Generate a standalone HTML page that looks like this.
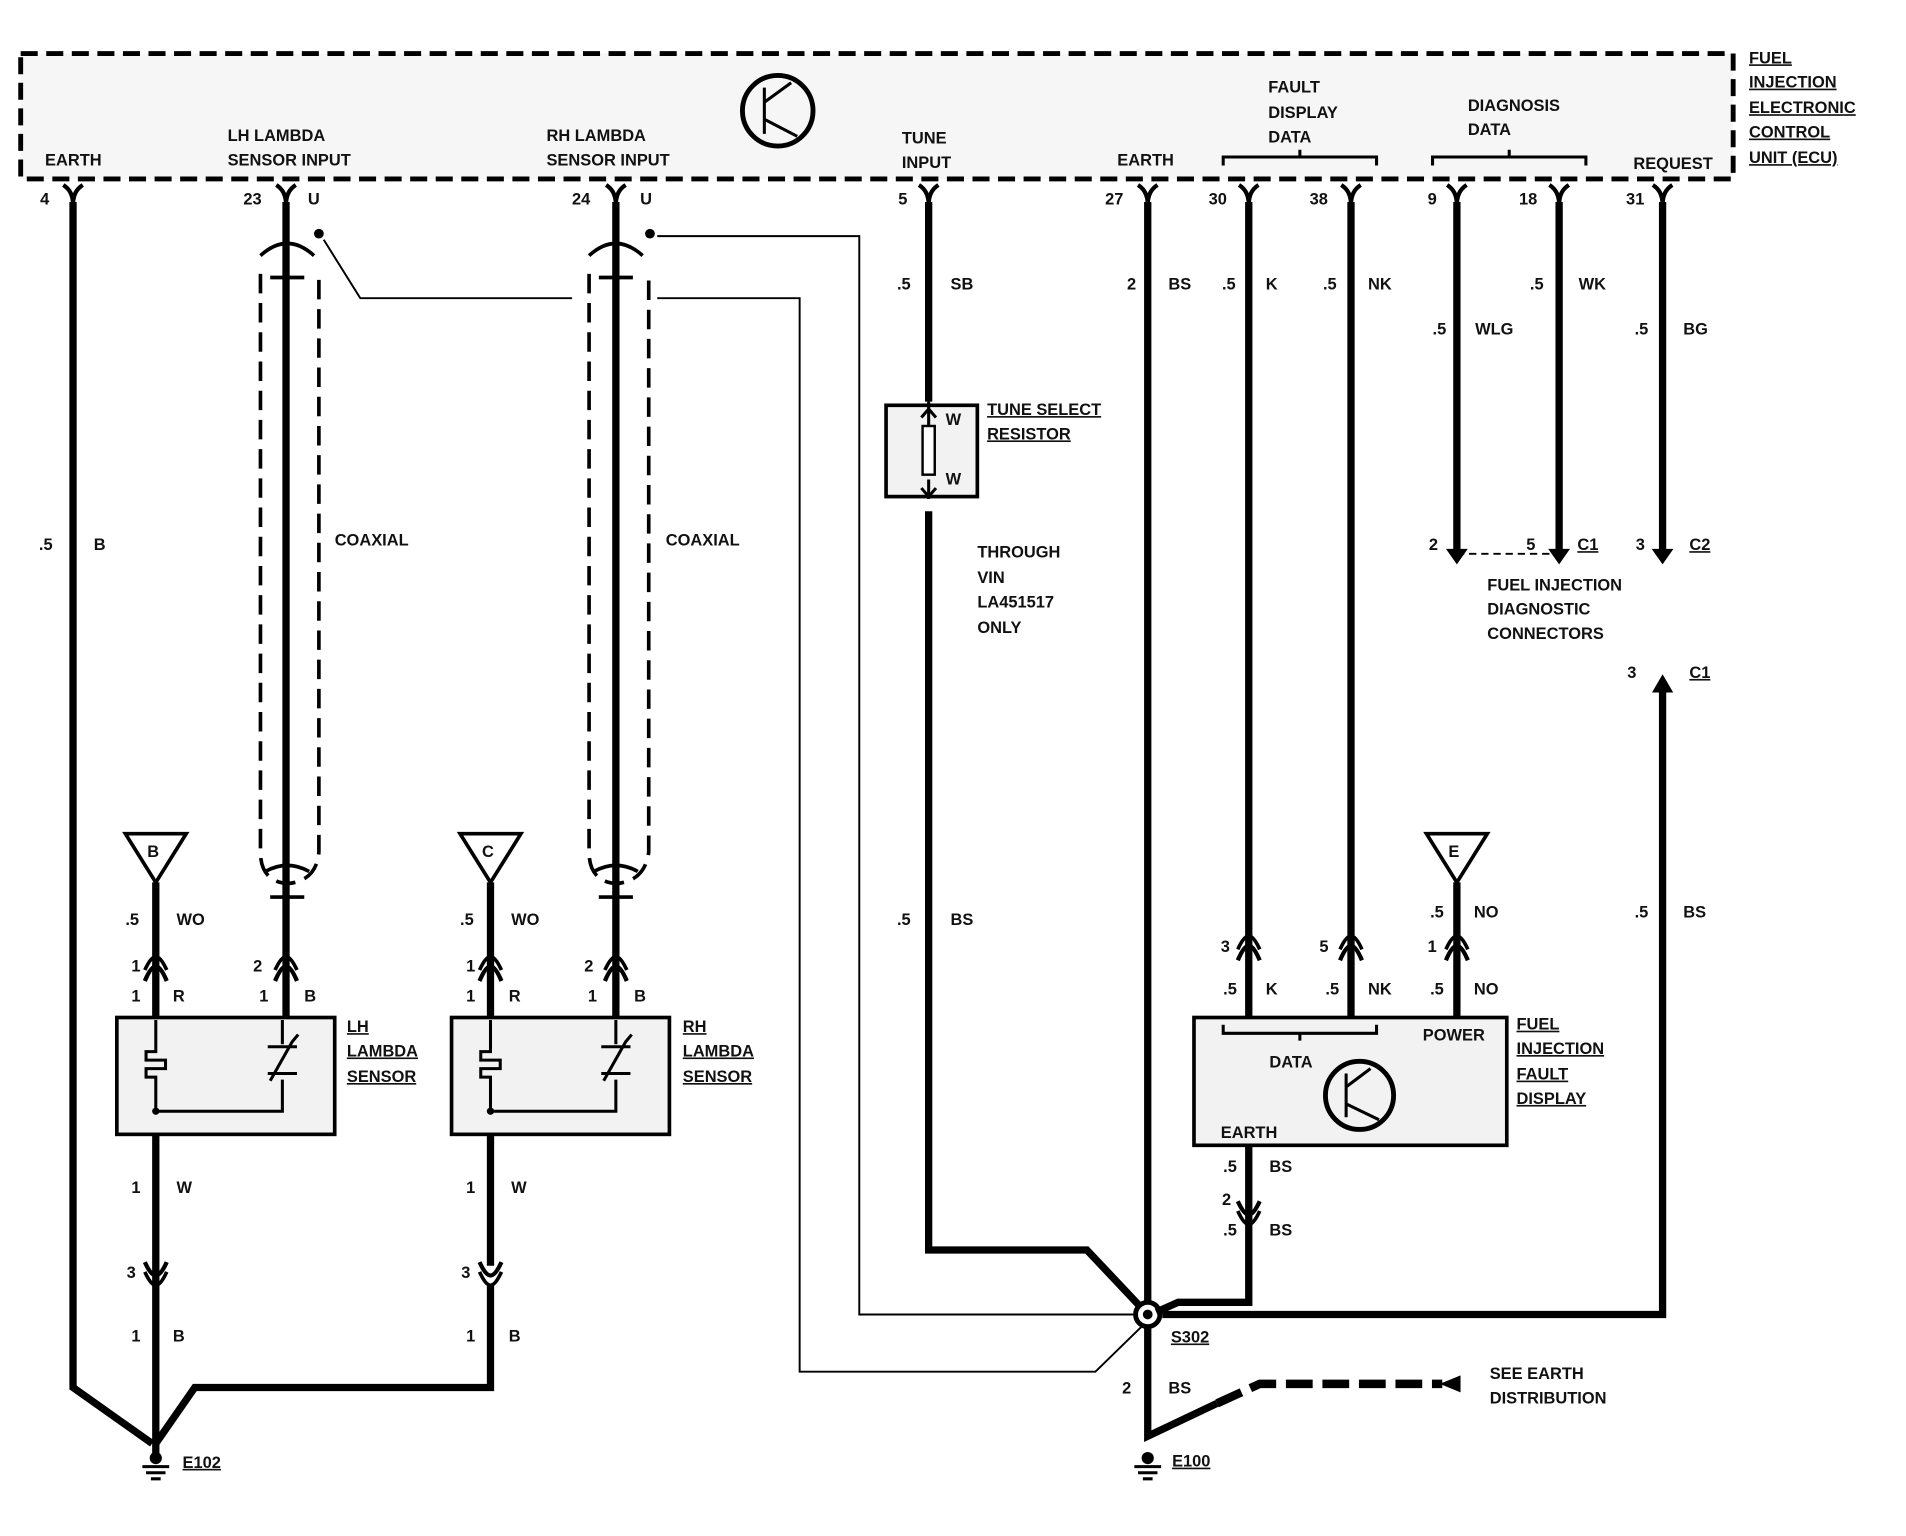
<!DOCTYPE html>
<html><head><meta charset="utf-8"><style>
html,body{margin:0;padding:0;background:#fff}
svg{display:block}
text{font-family:"Liberation Sans",sans-serif;font-size:13.5px;font-weight:bold;fill:#111}
.w{stroke:#000;stroke-width:6;fill:none;stroke-linejoin:miter}
.t{stroke:#000;stroke-width:1.6;fill:none}
.m{stroke:#000;stroke-width:2.5;fill:none}
.u{text-decoration:underline}
</style></head><body>
<svg width="1906" height="1536" viewBox="0 0 1566 1262" preserveAspectRatio="none">
<defs>
<path id="pin" d="M-8,152 Q0,157 0,168 Q0,157 8,152" stroke="#000" stroke-width="3.5" fill="none"/>
<g id="con"><path d="M-9,797 Q-4,786 0,786 Q4,786 9,797" stroke="#000" stroke-width="3" fill="none"/><path d="M-9,806 Q-4,794 0,794 Q4,794 9,806" stroke="#000" stroke-width="3.5" fill="none"/></g>
<g id="cond"><path d="M-9,1037 Q-4,1048 0,1048 Q4,1048 9,1037" stroke="#000" stroke-width="3.5" fill="none"/><path d="M-9,1045 Q-4,1056 0,1056 Q4,1056 9,1045" stroke="#000" stroke-width="3" fill="none"/></g>
</defs>
<!-- ECU box -->
<rect x="17" y="44" width="1407" height="103" fill="#f6f6f6" stroke="#000" stroke-width="4" stroke-dasharray="14,7"/>
<circle cx="639" cy="91" r="29" fill="none" stroke="#000" stroke-width="4"/>
<path d="M628,72 V110 M628,84 L650,68 M628,98 L655,112" class="m"/>
<text x="37" y="136">EARTH</text>
<text x="187" y="116">LH LAMBDA</text><text x="187" y="136">SENSOR INPUT</text>
<text x="449" y="116">RH LAMBDA</text><text x="449" y="136">SENSOR INPUT</text>
<text x="741" y="118">TUNE</text><text x="741" y="138">INPUT</text>
<text x="918" y="136">EARTH</text>
<text x="1042" y="76">FAULT</text><text x="1042" y="97">DISPLAY</text><text x="1042" y="117">DATA</text>
<path d="M1005,136 V129 H1131 V136 M1068,129 V123" class="m"/>
<text x="1206" y="91">DIAGNOSIS</text><text x="1206" y="111">DATA</text>
<path d="M1177,136 V129 H1303 V136 M1240,129 V123" class="m"/>
<text x="1342" y="139">REQUEST</text>
<text class="u" x="1437" y="52">FUEL</text><text class="u" x="1437" y="72">INJECTION</text><text class="u" x="1437" y="93">ELECTRONIC</text><text class="u" x="1437" y="113">CONTROL</text><text class="u" x="1437" y="134">UNIT (ECU)</text>
<!-- pins -->
<use href="#pin" x="60"/><use href="#pin" x="235"/><use href="#pin" x="506"/><use href="#pin" x="763"/><use href="#pin" x="943"/><use href="#pin" x="1026"/><use href="#pin" x="1110"/><use href="#pin" x="1197"/><use href="#pin" x="1281"/><use href="#pin" x="1366"/>
<text x="33" y="168">4</text><text x="200" y="168">23</text><text x="253" y="168">U</text><text x="470" y="168">24</text><text x="526" y="168">U</text><text x="738" y="168">5</text><text x="908" y="168">27</text><text x="993" y="168">30</text><text x="1076" y="168">38</text><text x="1173" y="168">9</text><text x="1248" y="168">18</text><text x="1336" y="168">31</text>
<!-- left earth wire -->
<path class="w" d="M60,166 V1140 L125,1186"/>
<path class="w" d="M403,1056 V1140 H160 L128,1186"/>
<text x="32" y="452">.5</text><text x="77" y="452">B</text>
<!-- LH coax -->
<path class="w" d="M235,166 V836"/>
<path d="M214,225 V700 Q214,724 236,726 Q260,724 262,700 V225" stroke="#000" stroke-width="3" fill="none" stroke-dasharray="16,8"/>
<path d="M214,210 Q236,190 258,210 M218,716 Q236,706 254,716 M222,228 H250 M222,737 H250" stroke="#000" stroke-width="3" fill="none"/>
<circle cx="262" cy="192" r="4"/>
<path class="t" d="M266,197 L296,245 H470"/>
<text x="275" y="448">COAXIAL</text>
<!-- RH coax -->
<path class="w" d="M506,166 V836"/>
<path d="M484,225 V700 Q484,724 506,726 Q530,724 533,700 V225" stroke="#000" stroke-width="3" fill="none" stroke-dasharray="16,8"/>
<path d="M484,210 Q506,190 528,210 M488,716 Q506,706 524,716 M492,228 H520 M492,737 H520" stroke="#000" stroke-width="3" fill="none"/>
<circle cx="534" cy="192" r="4"/>
<path class="t" d="M540,194 H706 V1080 H935"/>
<path class="t" d="M540,245 H657 V1127 H900 L940,1088"/>
<text x="547" y="448">COAXIAL</text>
<!-- B sensor -->
<path d="M103,685 H153 L128,725 Z" fill="#fff" stroke="#000" stroke-width="3"/><text x="121" y="704">B</text>
<path class="w" d="M128,725 V836 M128,932 V1186"/>
<use href="#con" x="128"/><use href="#con" x="235"/>
<text x="103" y="760">.5</text><text x="145" y="760">WO</text>
<text x="108" y="798">1</text><text x="108" y="823">1</text><text x="142" y="823">R</text>
<text x="208" y="798">2</text><text x="213" y="823">1</text><text x="250" y="823">B</text>
<rect x="96" y="836" width="179" height="96" fill="#f2f2f2" stroke="#000" stroke-width="3"/>
<path class="m" d="M128,838 V864 H120 V871 H136 V878 H120 V885 H128 V913 H232 V887 M232,838 V858 M220,860 H244 M220,882 H244 M222,888 L240,856 L245,850"/>
<circle cx="128" cy="913" r="3"/>
<text class="u" x="285" y="848">LH</text><text class="u" x="285" y="868">LAMBDA</text><text class="u" x="285" y="889">SENSOR</text>
<use href="#cond" x="128"/>
<text x="108" y="980">1</text><text x="145" y="980">W</text><text x="104" y="1050">3</text><text x="108" y="1102">1</text><text x="142" y="1102">B</text>
<!-- C sensor -->
<path d="M378,685 H428 L403,725 Z" fill="#fff" stroke="#000" stroke-width="3"/><text x="396" y="704">C</text>
<path class="w" d="M403,725 V836 M403,932 V1040"/>
<use href="#con" x="403"/><use href="#con" x="506"/>
<text x="378" y="760">.5</text><text x="420" y="760">WO</text>
<text x="383" y="798">1</text><text x="383" y="823">1</text><text x="418" y="823">R</text>
<text x="480" y="798">2</text><text x="483" y="823">1</text><text x="521" y="823">B</text>
<rect x="371" y="836" width="179" height="96" fill="#f2f2f2" stroke="#000" stroke-width="3"/>
<path class="m" d="M403,838 V864 H395 V871 H411 V878 H395 V885 H403 V913 H506 V887 M506,838 V858 M494,860 H518 M494,882 H518 M496,888 L514,856 L519,850"/>
<circle cx="403" cy="913" r="3"/>
<text class="u" x="561" y="848">RH</text><text class="u" x="561" y="868">LAMBDA</text><text class="u" x="561" y="889">SENSOR</text>
<use href="#cond" x="403"/>
<text x="383" y="980">1</text><text x="420" y="980">W</text><text x="379" y="1050">3</text><text x="383" y="1102">1</text><text x="418" y="1102">B</text>
<!-- ground E102 -->
<path class="w" d="M128,1186 V1195"/>
<circle cx="128" cy="1198" r="5"/><path class="m" d="M117,1205 H139 M120,1210 H136 M124,1215 H132"/>
<text class="u" x="150" y="1206">E102</text>
<!-- tune -->
<path class="w" d="M763,166 V330 M763,420 V1027 H893 L943,1080"/>
<rect x="728" y="333" width="75" height="75" fill="#f2f2f2" stroke="#000" stroke-width="3"/>
<path class="m" d="M763,330 V350 M757,343 L763,336 L769,343 M763,394 V410 M757,401 L763,408 L769,401"/>
<rect x="758" y="350" width="10" height="40" fill="#fff" stroke="#000" stroke-width="2"/>
<text x="777" y="349">W</text><text x="777" y="398">W</text>
<text class="u" x="811" y="341">TUNE SELECT</text><text class="u" x="811" y="361">RESISTOR</text>
<text x="737" y="238">.5</text><text x="781" y="238">SB</text>
<text x="803" y="458">THROUGH</text><text x="803" y="479">VIN</text><text x="803" y="499">LA451517</text><text x="803" y="520">ONLY</text>
<text x="737" y="760">.5</text><text x="781" y="760">BS</text>
<!-- 27 earth -->
<path class="w" d="M943,166 V1180 L1000,1153"/>
<path d="M1000,1153 L1035,1137 H1185" stroke="#000" stroke-width="7" fill="none" stroke-dasharray="22,8"/>
<path d="M1183,1137 L1200,1130 V1144 Z" fill="#000"/>
<text x="926" y="238">2</text><text x="960" y="238">BS</text>
<circle cx="943" cy="1080" r="10" fill="#fff" stroke="#000" stroke-width="4"/><circle cx="943" cy="1080" r="4"/>
<text class="u" x="962" y="1103">S302</text>
<text x="922" y="1145">2</text><text x="960" y="1145">BS</text>
<text x="1224" y="1133">SEE EARTH</text><text x="1224" y="1153">DISTRIBUTION</text>
<circle cx="943" cy="1198" r="5"/><path class="m" d="M932,1205 H954 M935,1210 H951 M939,1215 H947"/>
<text class="u" x="963" y="1205">E100</text>
<!-- fault display -->
<path class="w" d="M1026,166 V836 M1110,166 V836 M1197,725 V836 M1026,941 V1070 H968 L950,1078"/>
<text x="1004" y="238">.5</text><text x="1040" y="238">K</text><text x="1087" y="238">.5</text><text x="1124" y="238">NK</text>
<use href="#con" x="1026" y="-17"/><use href="#con" x="1110" y="-17"/><use href="#con" x="1197" y="-17"/>
<text x="1003" y="782">3</text><text x="1084" y="782">5</text><text x="1173" y="782">1</text>
<text x="1005" y="817">.5</text><text x="1040" y="817">K</text><text x="1089" y="817">.5</text><text x="1124" y="817">NK</text><text x="1175" y="817">.5</text><text x="1211" y="817">NO</text>
<path d="M1172,685 H1222 L1197,725 Z" fill="#fff" stroke="#000" stroke-width="3"/><text x="1190" y="704">E</text>
<text x="1175" y="754">.5</text><text x="1211" y="754">NO</text>
<rect x="981" y="836" width="257" height="105" fill="#f2f2f2" stroke="#000" stroke-width="3"/>
<path class="m" d="M1005,842 V849 H1131 V842 M1068,849 V855"/>
<text x="1043" y="877">DATA</text><text x="1169" y="855">POWER</text><text x="1003" y="935">EARTH</text>
<circle cx="1117" cy="900" r="28" fill="none" stroke="#000" stroke-width="4"/>
<path d="M1106,882 V918 M1106,893 L1126,878 M1106,907 L1133,920" class="m"/>
<text class="u" x="1246" y="846">FUEL</text><text class="u" x="1246" y="866">INJECTION</text><text class="u" x="1246" y="887">FAULT</text><text class="u" x="1246" y="907">DISPLAY</text>
<text x="1005" y="963">.5</text><text x="1043" y="963">BS</text>
<use href="#cond" x="1026" y="-50"/>
<text x="1004" y="990">2</text><text x="1005" y="1015">.5</text><text x="1043" y="1015">BS</text>
<!-- diagnosis -->
<path class="w" d="M1197,166 V455 M1281,166 V455 M1366,166 V455 M1366,568 V1080 H955"/>
<path d="M1190,452 L1197,462 L1204,452 Z M1274,452 L1281,462 L1288,452 Z M1359,452 L1366,462 L1373,452 Z M1359,568 L1366,556 L1373,568 Z" fill="#000" stroke="#000" stroke-width="2"/>
<path class="t" d="M1197,455 H1281" stroke-dasharray="6,4"/>
<text x="1177" y="275">.5</text><text x="1212" y="275">WLG</text>
<text x="1257" y="238">.5</text><text x="1297" y="238">WK</text>
<text x="1343" y="275">.5</text><text x="1383" y="275">BG</text>
<text x="1174" y="452">2</text><text x="1254" y="452">5</text><text class="u" x="1296" y="452">C1</text>
<text x="1344" y="452">3</text><text class="u" x="1388" y="452">C2</text>
<text x="1222" y="485">FUEL INJECTION</text><text x="1222" y="505">DIAGNOSTIC</text><text x="1222" y="525">CONNECTORS</text>
<text x="1337" y="557">3</text><text class="u" x="1388" y="557">C1</text>
<text x="1343" y="754">.5</text><text x="1383" y="754">BS</text>
</svg>
</body></html>
